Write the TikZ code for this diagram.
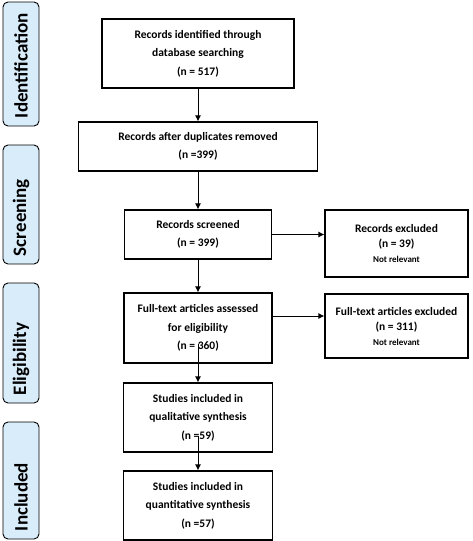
\documentclass[tikz,border=0pt]{standalone}
\usepackage{fontspec}
\setmainfont{Carlito}
\usetikzlibrary{arrows.meta}
\definecolor{phaseblue}{RGB}{216,236,250}
\begin{document}
\begin{tikzpicture}[x=1pt,y=-1pt,>={Latex[length=6pt,width=6pt]}]
    \tikzstyle{flow box}=[draw,line width=1.1pt,align=center,font=\bfseries\fontsize{11.5}{18.5}\selectfont]
    \tikzstyle{excl box}=[flow box,minimum width=143pt,font=\bfseries\fontsize{11.5}{15}\selectfont]
    \tikzstyle{phase}=[draw,line width=0.9pt,rounded corners=5pt,fill=phaseblue,rotate=90,minimum height=36pt,inner xsep=8pt,align=left,font=\bfseries\fontsize{19}{22}\selectfont]
    \tikzstyle{flow arrow}=[->,line width=1pt]
    \useasboundingbox (0,0) rectangle (473,541);

    % phase labels
    \node(idlab)[phase,minimum width=124pt,text width=108pt] at (21,64) {Identification};
    \node(scrlab)[phase,minimum width=119pt,text width=103pt] at (21,204.5) {Screening};
    \node(eliglab)[phase,minimum width=120pt,text width=104pt] at (21,343) {Eligibility};
    \node(inclab)[phase,minimum width=117pt,text width=101pt] at (21,480.5) {Included};

    % main column
    \node(ident)[flow box,minimum width=192pt,minimum height=69pt] at (198,53.5) {Records identified through\\database searching\\(n = 517)};
    \node(dup)[flow box,minimum width=239pt,minimum height=49pt] at (198,146.5) {Records after duplicates removed\\(n =399)};
    \node(scr)[flow box,minimum width=147pt,minimum height=49pt] at (198,234.5) {Records screened\\(n = 399)};
    \node(full)[flow box,minimum width=148pt,minimum height=70pt] at (198,328) {Full-text articles assessed\\for eligibility\\(n = 360)};
    \node(qual)[flow box,minimum width=149pt,minimum height=69pt] at (198,417.5) {Studies included in\\qualitative synthesis\\(n =59)};
    \node(quant)[flow box,minimum width=149pt,minimum height=69pt] at (198,505.5) {Studies included in\\quantitative synthesis\\(n =57)};

    % excluded
    \node(excl1)[excl box,minimum height=67pt] at (396.5,243.5) {Records excluded\\(n = 39)\\{\fontsize{9}{11}\selectfont Not relevant}};
    \node(excl2)[excl box,minimum height=64pt] at (396.5,326) {Full-text articles excluded\\(n = 311)\\{\fontsize{9}{11}\selectfont Not relevant}};

    \draw[flow arrow](ident)--(dup);
    \draw[flow arrow](dup)--(scr);
    \draw[flow arrow](scr)--(full);
    \draw[flow arrow]([yshift=20pt]full.south)--(qual.north);
    \draw[flow arrow]([yshift=17pt]qual.south)--(quant.north);
    \draw[flow arrow](scr.east)--(scr.east -| excl1.west);
    \draw[flow arrow]([yshift=12pt]full.east)--([yshift=12pt]full.east -| excl2.west);
\end{tikzpicture}
\end{document}
